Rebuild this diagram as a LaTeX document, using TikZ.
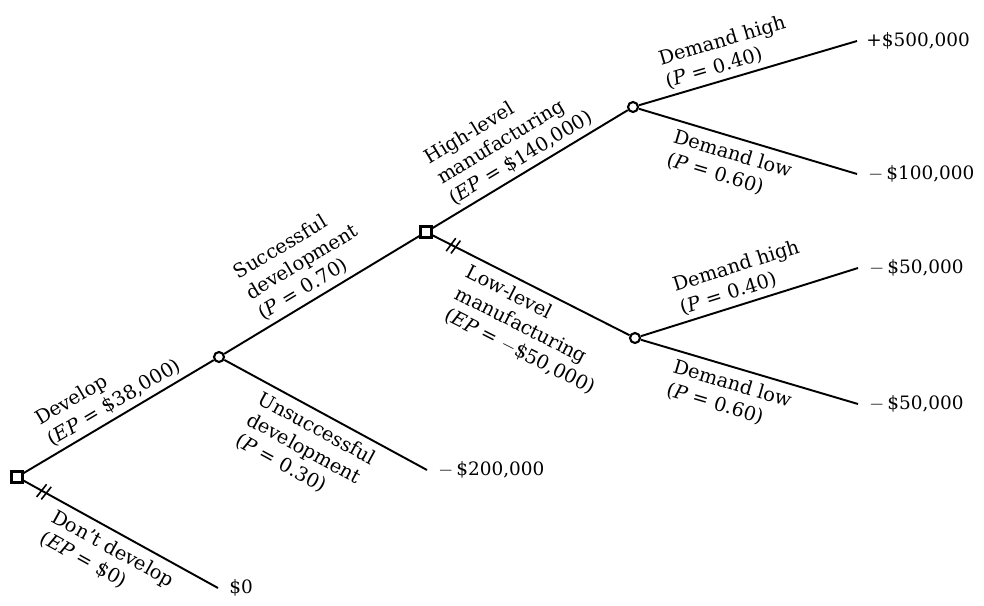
\documentclass[tikz,border=0pt]{standalone}
\usepackage{fontspec}
\setmainfont{DejaVu Serif}
\usetikzlibrary{positioning, decorations.markings}

\begin{document}
\begin{tikzpicture}[
    x=0.2mm, y=-0.2mm,
    every node/.style={font=\fontsize{11}{13.5}\selectfont},
    decision/.style={draw, rectangle, line width=1.2pt, minimum size=2.2mm, inner sep=0pt, fill=white},
    chance/.style={draw, circle, line width=1.2pt, minimum size=2mm, inner sep=0pt, fill=white},
    branch/.style={line width=1.1pt},
    lbl/.style={sloped, align=left, inner sep=2.5pt},
    lblb/.style={lbl, below right, outer ysep=2pt},
    payoff/.style={inner sep=0pt, font=\fontsize{10.5}{12}\selectfont},
    cut/.style={postaction={decorate, decoration={markings, mark=at position #1 with {
        \draw[line width=0.9pt] (-2pt,-4.5pt) -- (-0.5pt,4.5pt) (1pt,-4.5pt) -- (2.5pt,4.5pt);}}}},
]
\useasboundingbox (0,0) rectangle (984,605);

% decision and chance points
\node[decision] (d1) at (17,477) {};
\node[chance]   (c1) at (219,357) {};
\node[decision] (d2) at (426,232) {};
\node[chance]   (c2) at (633,107) {};
\node[chance]   (c3) at (635,338) {};

% branch ends
\coordinate (e0) at (218,588);
\coordinate (e1) at (427,470);
\coordinate (e2) at (857,41);
\coordinate (e3) at (857,174);
\coordinate (e4) at (858,268);
\coordinate (e5) at (858,404);

\draw[branch] (d1) -- node[lbl, above right, pos=.15] {Develop\\(\textit{EP} = \$38,000)} (c1);
\draw[branch, cut=13pt] (d1) -- node[lblb, pos=.17] {Don't develop\\(\textit{EP} = \$0)} (e0);
\draw[branch] (c1) -- node[lbl, above right, pos=.2] {Successful\\development\\(\textit{P} = 0.70)} (d2);
\draw[branch] (c1) -- node[lblb, pos=.19] {Unsuccessful\\development\\(\textit{P} = 0.30)} (e1);
\draw[branch] (d2) -- node[lbl, above right, pos=.11] {High-level\\manufacturing\\(\textit{EP} = \$140,000)} (c2);
\draw[branch, cut=13pt] (d2) -- node[lblb, pos=.19] {Low-level\\manufacturing\\(\textit{EP} = $-$\$50,000)} (c3);
\draw[branch] (c2) -- node[lbl, above right, pos=.12] {Demand high\\(\textit{P} = 0.40)} (e2);
\draw[branch] (c2) -- node[lblb, pos=.16] {Demand low\\(\textit{P} = 0.60)} (e3);
\draw[branch] (c3) -- node[lbl, above right, pos=.18] {Demand high\\(\textit{P} = 0.40)} (e4);
\draw[branch] (c3) -- node[lblb, pos=.15] {Demand low\\(\textit{P} = 0.60)} (e5);

% payoffs
\node[payoff, right=2.2mm of e0] (v0) {\$0};
\node[payoff, right=2.2mm of e1] (v1) {$-$\,\$200,000};
\node[payoff, right=1.8mm of e2] (v2) {+\$500,000};
\node[payoff, right=2.2mm of e3] (v3) {$-$\,\$100,000};
\node[payoff, right=2.2mm of e4] (v4) {$-$\,\$50,000};
\node[payoff, right=2.2mm of e5] (v5) {$-$\,\$50,000};

\end{tikzpicture}
\end{document}
